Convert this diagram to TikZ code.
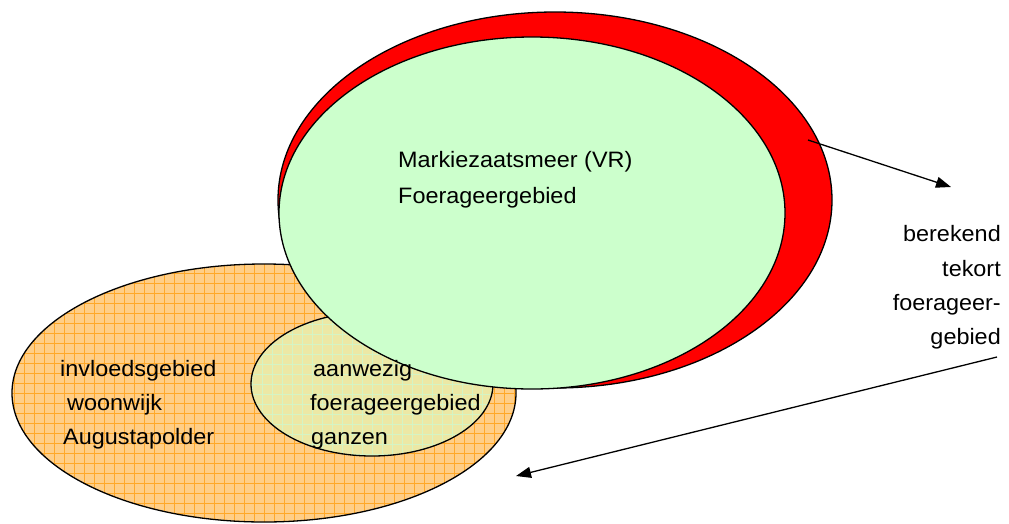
\documentclass[tikz,border=0pt]{standalone}
\usepackage{fontspec}
\setmainfont{Liberation Sans}
\usetikzlibrary{shapes.geometric,arrows.meta}
\definecolor{redfill}{RGB}{255,0,0}
\definecolor{greenfill}{RGB}{204,255,204}
\definecolor{orangefill}{RGB}{255,206,135}
\definecolor{orangegrid}{RGB}{255,168,40}
\definecolor{innerfill}{RGB}{236,232,165}
\definecolor{innergrid}{RGB}{212,244,196}
\begin{document}
\begin{tikzpicture}[x=1pt,y=-1pt,
  blob/.style={ellipse, draw=black, line width=1.3pt, inner sep=0pt},
  orangeblob/.style={blob, fill=orangefill, path picture={\draw[orangegrid, line width=0.9pt] (path picture bounding box.north west) grid[step=10pt] (path picture bounding box.south east);}},
  innerblob/.style={blob, fill=innerfill, path picture={\draw[innergrid, line width=0.9pt] (path picture bounding box.north west) grid[step=10pt] (path picture bounding box.south east);}},
  lbl/.style={font=\fontsize{22.3}{26}\selectfont, inner sep=0pt, xscale=1.05},
  conn/.style={-{Triangle[length=15pt,width=11pt]}, line width=1.3pt}]
\useasboundingbox (0,0) rectangle (1009,523);
\fill[white] (0,0) rectangle (1009,523);
\node[orangeblob, minimum width=504pt, minimum height=258pt] (infl) at (264,393) {};
\node[innerblob, minimum width=242pt, minimum height=144pt] (pres) at (372,384) {};
\node[blob, fill=redfill, minimum width=554pt, minimum height=376pt] (deficit) at (555,200) {};
\node[blob, fill=greenfill, minimum width=506pt, minimum height=352pt] (mark) at (532,213) {};
% texts
\node[lbl, anchor=base west] (t1) at (398,167) {Markiezaatsmeer (VR)};
\node[lbl, anchor=base west] (t2) at (398,203) {Foerageergebied};
\node[lbl, anchor=base west] (l1) at (60,376) {invloedsgebied};
\node[lbl, anchor=base west] (l2) at (67,410) {woonwijk};
\node[lbl, anchor=base west] (l3) at (63,444) {Augustapolder};
\node[lbl, anchor=base west] (p1) at (313,376) {aanwezig};
\node[lbl, anchor=base west] (p2) at (310,410) {foerageergebied};
\node[lbl, anchor=base west] (p3) at (311,444) {ganzen};
\node[lbl, anchor=base east] (r1) at (1001,241) {berekend};
\node[lbl, anchor=base east] (r2) at (1001,276) {tekort};
\node[lbl, anchor=base east] (r3) at (1001,310) {foerageer-};
\node[lbl, anchor=base east] (r4) at (1001,344) {gebied};
% connectors
\coordinate (a1s) at (808,140);
\coordinate (a1e) at (951,187);
\coordinate (a2s) at (997,357);
\coordinate (a2e) at (516,476);
\draw[conn] (a1s) -- (a1e);
\draw[conn] (a2s) -- (a2e);
\end{tikzpicture}
\end{document}
